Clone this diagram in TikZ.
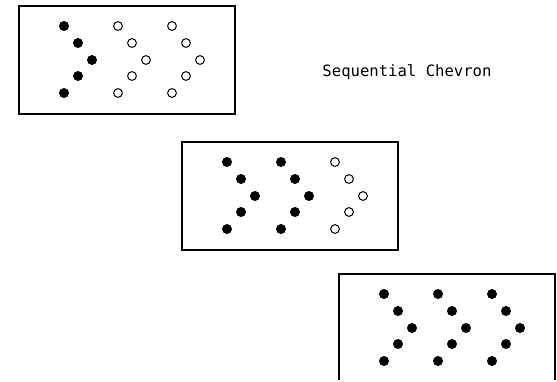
\documentclass[tikz,border=0pt]{standalone}
\usepackage{fontspec}
\usepackage{tikz}
\usetikzlibrary{calc}
\newfontfamily\labelfont{DejaVu Sans Mono}

\begin{document}
\begin{tikzpicture}[x=1pt,y=-1pt]
\useasboundingbox (0,0) rectangle (557,381);
\clip (0,0) rectangle (557,379.5);
\tikzset{framebox/.style={line width=1.3pt}, hollowdot/.style={line width=1pt}}
% three panels, the number of filled chevrons grows
\foreach \bx/\by/\nfull in {0/0/1,163/136/2,320/268/3}{
  \begin{scope}[shift={(\bx,\by)}]
    \draw[framebox] (19,6) rectangle (235,114);
    \foreach \c in {0,1,2}{
      \foreach \dx/\dy in {0/26,14/43,28/60,14/76,0/93}{
        \ifnum\c<\nfull
          \fill ({64+54*\c+\dx},\dy) circle (5);
        \else
          \draw[hollowdot] ({64+54*\c+\dx},\dy) circle (4.4);
        \fi
      }
    }
  \end{scope}
}
\node[font=\labelfont\fontsize{15.6}{18}\selectfont] (title) at (407,72) {Sequential Chevron};
\end{tikzpicture}
\end{document}
